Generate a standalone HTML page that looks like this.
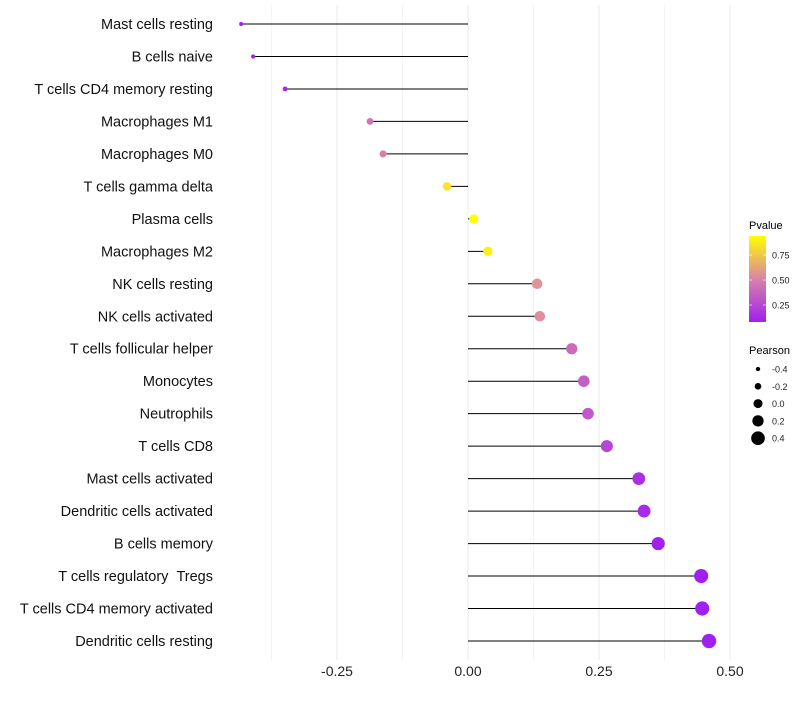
<!DOCTYPE html>
<html><head><meta charset="utf-8"><style>
body{margin:0;background:#fff;font-family:"Liberation Sans",sans-serif}
</style></head><body>
<svg id="chart" width="800" height="700" xmlns="http://www.w3.org/2000/svg" font-family="Liberation Sans, sans-serif">
<g id="grid"></g>
<g id="marks"></g>
<g id="ylabels"></g>
<g id="xlabels"></g>
<g id="legend">
<defs><linearGradient id="pg" x1="0" y1="1" x2="0" y2="0">
<stop offset="0" stop-color="#A020F0"/><stop offset="0.5" stop-color="#D883A8"/><stop offset="1" stop-color="#FFFF00"/></linearGradient></defs>
<text x="749" y="229" font-size="11">Pvalue</text>
<rect x="749" y="236" width="17" height="86" fill="url(#pg)"/>
<text x="749" y="354" font-size="11">Pearson</text>
</g>
</svg>
<script>
const cats=["Mast cells resting","B cells naive","T cells CD4 memory resting","Macrophages M1","Macrophages M0","T cells gamma delta","Plasma cells","Macrophages M2","NK cells resting","NK cells activated","T cells follicular helper","Monocytes","Neutrophils","T cells CD8","Mast cells activated","Dendritic cells activated","B cells memory","T cells regulatory \u00a0Tregs","T cells CD4 memory activated","Dendritic cells resting"];
const pearson=[-0.433,-0.41,-0.349,-0.187,-0.162,-0.04,0.011,0.038,0.132,0.137,0.198,0.221,0.229,0.265,0.326,0.336,0.363,0.445,0.447,0.46];
const pvalue=[0.05,0.07,0.13,0.45,0.5,0.88,0.96,0.9,0.6,0.58,0.4,0.35,0.33,0.25,0.15,0.13,0.08,0.03,0.03,0.02];
const xTicks=[-0.25,0,0.25,0.5];
const xTickLabels=["-0.25","0.00","0.25","0.50"];
const pTicks=[0.25,0.5,0.75];
const pTickLabels=["0.25","0.50","0.75"];
const sizeTicks=[-0.4,-0.2,0,0.2,0.4];
const sizeTickLabels=["-0.4","-0.2","0.0","0.2","0.4"];
const NS="http://www.w3.org/2000/svg";
const x=v=>468+v*524;
const y=i=>24+i*(641-24)/19;
const r=p=>Math.max(1.8,4.5+5.8*p);
function col(p){const t=Math.max(0,Math.min(1,(p-0.08)/(0.94-0.08)));
 const a=[160,32,240],m=[216,131,168],b=[255,255,0];let c;
 if(t<0.5){const s=t/0.5;c=a.map((v,k)=>Math.round(v+(m[k]-v)*s));}else{const s=(t-0.5)/0.5;const m2=[236,170,130];c=s<0.5?m.map((v,k)=>Math.round(v+(m2[k]-v)*s*2)):m2.map((v,k)=>Math.round(v+(b[k]-v)*(s-0.5)*2));}
 return `rgb(${c[0]},${c[1]},${c[2]})`;}
function mk(tag,attrs,parent){const e=document.createElementNS(NS,tag);for(const k in attrs)e.setAttribute(k,attrs[k]);parent.appendChild(e);return e;}
const grid=document.getElementById('grid'),marks=document.getElementById('marks'),yl=document.getElementById('ylabels'),xl=document.getElementById('xlabels'),lg=document.getElementById('legend');
for(let i=0;i<xTicks.length;i++){
 const l=mk('line',{x1:x(xTicks[i]),x2:x(xTicks[i]),y1:5,y2:660,stroke:'#ebebeb','stroke-width':1},grid);
 
 
 const m=mk('line',{x1:x(xTicks[i]-0.125),x2:x(xTicks[i]-0.125),y1:5,y2:660,stroke:'#f4f4f4','stroke-width':1},grid);
 
 
 const t=mk('text',{x:x(xTicks[i]),y:676,'font-size':14,'text-anchor':'middle',fill:'#222'},xl);
 t.textContent=xTickLabels[i];
 
 
}
for(let i=0;i<cats.length;i++){
 const ln=mk('line',{x1:x(0),x2:x(pearson[i]),y1:y(i),y2:y(i),stroke:'#000','stroke-width':1},marks);
 
 
 const c=mk('circle',{cx:x(pearson[i]),cy:y(i),r:r(pearson[i]),fill:col(pvalue[i])},marks);
 
 
 const t=mk('text',{x:213,y:y(i)+5,'font-size':14.5,'text-anchor':'end',fill:'#111'},yl);
 t.textContent=cats[i];
 
 
}
for(let i=0;i<pTicks.length;i++){
 const yy=322-(pTicks[i]-0.08)/(0.94-0.08)*86;
 const t=mk('text',{x:772,y:yy+3.5,'font-size':9,fill:'#222'},lg);
 t.textContent=pTickLabels[i];
 
 
 const tk=mk('line',{x1:749,x2:752,y1:yy,y2:yy,stroke:'#fff','stroke-width':0.6},lg);
 
 
 const tk2=mk('line',{x1:763,x2:766,y1:yy,y2:yy,stroke:'#fff','stroke-width':0.6},lg);
 
 
}
for(let i=0;i<sizeTicks.length;i++){
 const yy=369+i*17.3;
 const c=mk('circle',{cx:758,cy:yy,r:r(sizeTicks[i]),fill:'#000'},lg);
 
 
 const t=mk('text',{x:772,y:yy+3.5,'font-size':9,fill:'#222'},lg);
 t.textContent=sizeTickLabels[i];
 
 
}
</script>
</body></html>
